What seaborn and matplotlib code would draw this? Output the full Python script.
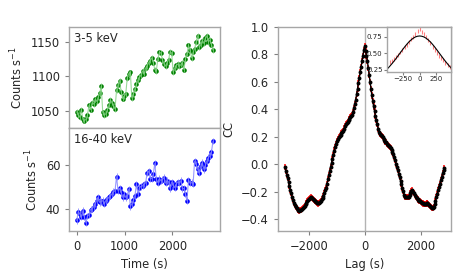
import numpy as np
import pandas as pd
import matplotlib
matplotlib.use("Agg")
import matplotlib.pyplot as plt
import seaborn as sns

# light curves, 32 s bins
time = np.arange(0, 2849, 32)
rate_soft = [1049, 1044, 1041, 1052, 1038, 1036, 1038, 1044, 1058, 1052, 1062,
             1060, 1067, 1064, 1070, 1076, 1086, 1048, 1044, 1046, 1052,
             1058, 1066, 1062, 1057, 1053, 1080, 1088, 1094, 1078, 1068,
             1072, 1074, 1098, 1104, 1106, 1069, 1075, 1082, 1089, 1095,
             1099, 1102, 1108, 1104, 1112, 1115, 1120, 1123, 1127, 1120,
             1110, 1108, 1126, 1135, 1134, 1124, 1118, 1115, 1120, 1124,
             1136, 1134, 1106, 1112, 1116, 1118, 1115, 1117, 1120, 1110,
             1125, 1133, 1145, 1138, 1127, 1135, 1140, 1150, 1159, 1142,
             1146, 1152, 1148, 1155, 1159, 1150, 1153, 1146, 1138]
rate_hard = [34.7, 38.8, 37.7, 36.2, 39.2, 36.2, 33.6, 36.7, 37.3, 39.7, 40.0,
             41.0, 42.3, 43.8, 45.3, 43.0, 43.5, 43.8, 42.3, 43.8, 44.5,
             45.3, 46.0, 46.8, 47.9, 48.3, 54.8, 48.3, 49.4, 47.6, 45.3,
             46.8, 45.3, 46.0, 49.1, 41.2, 42.3, 44.0, 46.0, 51.4, 46.8,
             49.8, 50.3, 50.6, 51.4, 52.0, 56.4, 57.4, 53.9, 53.9, 56.0,
             60.9, 53.6, 52.1, 53.9, 52.9, 53.5, 54.4, 51.8, 53.0, 52.4,
             49.4, 52.4, 51.0, 49.8, 51.5, 52.4, 51.8, 53.0, 49.4, 49.4,
             46.8, 43.8, 53.3, 51.8, 52.1, 51.5, 62.0, 60.5, 58.2, 56.7,
             59.7, 61.2, 58.2, 60.0, 62.0, 63.5, 64.5, 66.1, 71.1]
err_soft = 4.0
err_hard = 1.5

# cross-correlation
lag = np.arange(-2848, 2849, 32)
cc_neg = [-0.02, -0.05, -0.075, -0.10, -0.13, -0.16, -0.19, -0.21, -0.24, -0.26,
          -0.28, -0.295, -0.31, -0.32, -0.33, -0.335, -0.34, -0.335, -0.33, -0.325,
          -0.32, -0.31, -0.30, -0.29, -0.285, -0.27, -0.26, -0.25, -0.245, -0.24,
          -0.245, -0.25, -0.26, -0.265, -0.27, -0.275, -0.28, -0.285, -0.28, -0.275,
          -0.265, -0.255, -0.245, -0.23, -0.21, -0.19, -0.17, -0.14, -0.11, -0.08,
          -0.05, -0.02, 0.01, 0.04, 0.07, 0.10, 0.125, 0.15, 0.17, 0.185,
          0.195, 0.205, 0.215, 0.225, 0.235, 0.245, 0.26, 0.275, 0.29, 0.30,
          0.31, 0.32, 0.33, 0.34, 0.35, 0.36, 0.38, 0.41, 0.44, 0.47,
          0.51, 0.55, 0.59, 0.63, 0.67, 0.71, 0.75, 0.79, 0.83, 0.86]
cc_pos = [0.82, 0.79, 0.75, 0.70, 0.65, 0.60, 0.55, 0.50, 0.46, 0.42,
          0.39, 0.35, 0.32, 0.29, 0.26, 0.235, 0.22, 0.21, 0.205, 0.195,
          0.185, 0.175, 0.165, 0.16, 0.15, 0.14, 0.135, 0.125, 0.115, 0.105,
          0.09, 0.075, 0.055, 0.03, 0.005, -0.02, -0.045, -0.07, -0.095, -0.12,
          -0.145, -0.17, -0.195, -0.22, -0.235, -0.24, -0.24, -0.24, -0.235, -0.225,
          -0.21, -0.195, -0.19, -0.20, -0.21, -0.22, -0.235, -0.245, -0.25, -0.26,
          -0.265, -0.27, -0.275, -0.28, -0.285, -0.29, -0.29, -0.29, -0.285, -0.285,
          -0.29, -0.295, -0.30, -0.31, -0.315, -0.32, -0.31, -0.29, -0.265, -0.24,
          -0.215, -0.19, -0.165, -0.14, -0.115, -0.09, -0.065, -0.045, -0.03]
cc = np.array(cc_neg + cc_pos)
cc_err = 0.022

# model curve for the inset
model_lag = np.arange(-480, 481, 32)
model_cc = [0.263, 0.298, 0.336, 0.376, 0.418, 0.462, 0.506, 0.550, 0.593, 0.633,
            0.670, 0.700, 0.726, 0.745, 0.756, 0.760, 0.756, 0.745, 0.726, 0.700,
            0.670, 0.633, 0.593, 0.550, 0.506, 0.462, 0.418, 0.376, 0.336, 0.298,
            0.263]

sns.set_style("ticks")
plt.rcParams["font.family"] = ["DejaVu Sans"]
plt.rcParams["font.size"] = 8.3

fig = plt.figure(figsize=(4.63, 2.72), dpi=100)
ax1 = fig.add_axes([0.1497, 0.5283, 0.3255, 0.3735])
ax2 = fig.add_axes([0.1497, 0.1518, 0.3255, 0.3765])
ax3 = fig.add_axes([0.5998, 0.1518, 0.3743, 0.75])
ax4 = fig.add_axes([0.8352, 0.7364, 0.1389, 0.1654])


def light_curve(ax, y, err, col, light, label):
    sns.lineplot(x=time, y=y, ax=ax, color=light, lw=0.8, alpha=0.8)
    ax.errorbar(time, y, yerr=err, fmt="none", ecolor=light, elinewidth=0.7, alpha=0.8)
    sns.scatterplot(x=time, y=y, ax=ax, color=col, s=11, linewidth=0)
    ax.text(0.03, 0.95, label, transform=ax.transAxes, va="top", ha="left")
    ax.set_ylabel("Counts s$^{-1}$")
    ax.set_xlim(-155, 2995)


light_curve(ax1, rate_soft, err_soft, "green", "#7fcf7f", "3-5 keV")
ax1.set_ylim(1025, 1172)
ax1.set_yticks([1050, 1100, 1150])
ax1.set_xticks([0, 1000, 2000])
ax1.tick_params(axis="x", bottom=False, labelbottom=False)

light_curve(ax2, rate_hard, err_hard, "blue", "#7f7fff", "16-40 keV")
ax2.set_ylim(30, 77)
ax2.set_yticks([40, 60])
ax2.set_xticks([0, 1000, 2000])
ax2.set_xlabel("Time (s)")

ax3.axvline(0, color="0.7", lw=1, zorder=0)
ax3.errorbar(lag, cc, yerr=cc_err, fmt="none", ecolor="red", elinewidth=1.1)
sns.lineplot(x=lag, y=cc, ax=ax3, color="black", lw=1)
sns.scatterplot(x=lag, y=cc, ax=ax3, color="black", s=8, linewidth=0, zorder=3)
ax3.set_xlim(-3107, 3082)
ax3.set_ylim(-0.483, 1.0)
ax3.set_yticks([-0.4, -0.2, 0.0, 0.2, 0.4, 0.6, 0.8, 1.0])
ax3.set_xticks([-2000, 0, 2000])
ax3.set_xlabel("Lag (s)")
ax3.set_ylabel("CC")

ax4.errorbar(lag, cc, yerr=0.03, fmt="none", ecolor="red", elinewidth=0.8, alpha=0.5)
sns.lineplot(x=model_lag, y=model_cc, ax=ax4, color="black", lw=0.8)
ax4.set_xlim(-490, 466)
ax4.set_ylim(0.22, 0.90)
ax4.set_xticks([-250, 0, 250])
ax4.set_yticks([0.25, 0.50, 0.75])
ax4.tick_params(labelsize=5, length=2, pad=1)
ax4.set_xlabel("")
ax4.set_ylabel("")

for ax in [ax1, ax2, ax3, ax4]:
    for s in ax.spines.values():
        s.set_color("0.65")
        s.set_linewidth(1)
    ax.tick_params(color="0.5")
for ax in [ax1, ax2, ax3]:
    ax.tick_params(length=3)

fig.savefig("out.png", dpi=100)
